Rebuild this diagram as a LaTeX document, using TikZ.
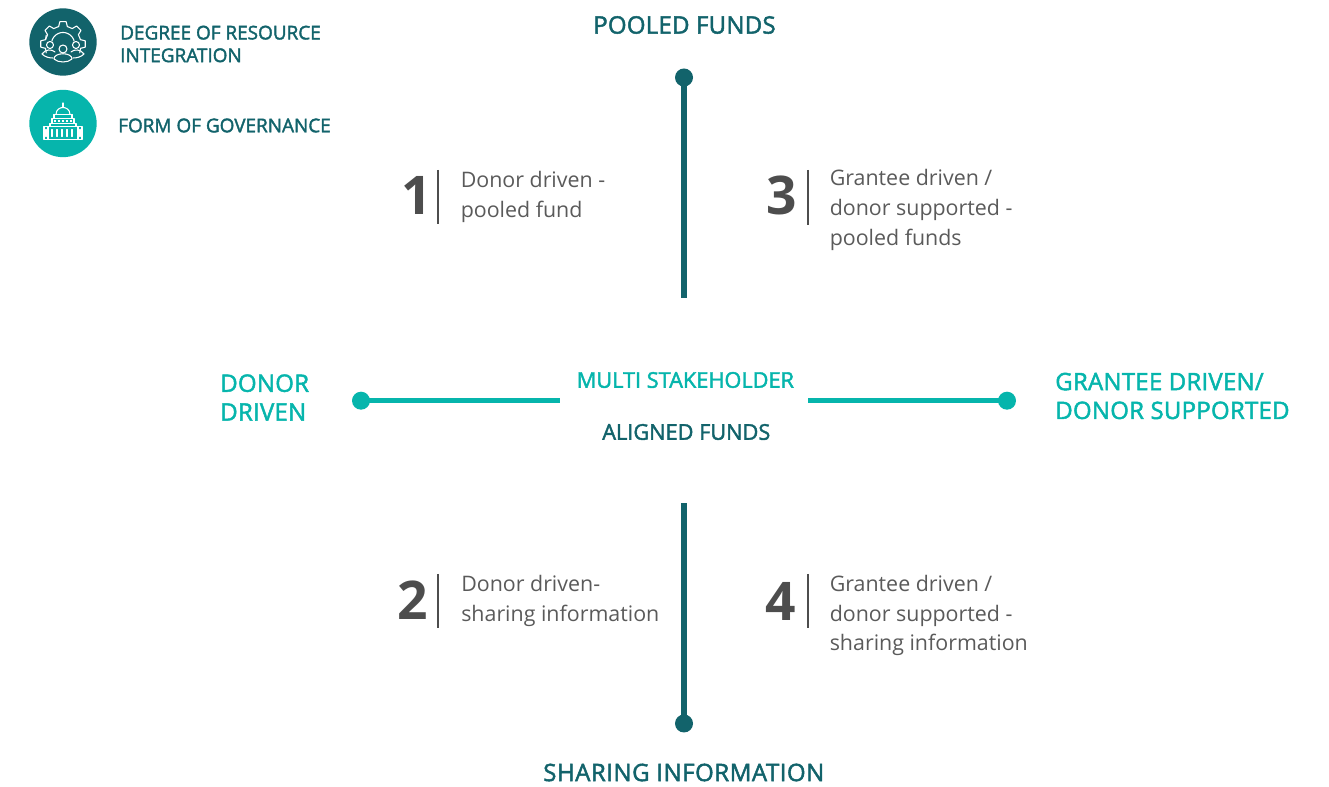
\documentclass[tikz,border=0pt]{standalone}
\usepackage{fontspec}
\setmainfont{Open Sans}
\newfontfamily\semi{Open Sans}[FakeBold=2]
\newfontfamily\semisp{Open Sans}[FakeBold=2,LetterSpace=1]
\newfontfamily\semiwide{Open Sans}[FakeBold=2,LetterSpace=2.2]
\newfontfamily\numfont{Open Sans}[UprightFont={* Bold}]
\definecolor{dk}{HTML}{12636B}
\definecolor{tl}{HTML}{06B5AC}
\definecolor{gy}{HTML}{5A5A5A}
\definecolor{nm}{HTML}{4D4D4D}
\tikzset{
 head/.style={font=\semisp\fontsize{18}{21.6}\selectfont,align=left,inner sep=0,anchor=west},
 widehead/.style={font=\semiwide\fontsize{18}{21.6}\selectfont,align=left,inner sep=0,anchor=west},
 small/.style={font=\semi\fontsize{14.2}{17}\selectfont,align=left,inner sep=0,anchor=west},
 mid/.style={font=\semi\fontsize{16.3}{20}\selectfont,align=left,inner sep=0,anchor=west},
 body/.style={font=\fontsize{16.05}{22.2}\selectfont,text=gy,align=left,inner sep=0,anchor=west},
 num/.style={font=\numfont\fontsize{40}{40}\selectfont,text=nm,inner sep=0},
 sep/.style={draw=nm,line width=1.1pt},
 axisv/.style={draw=dk,line width=4.2pt},
 axish/.style={draw=tl,line width=4.2pt},
 dot/.style={circle,inner sep=0,minimum size=13.5pt},
 ic/.style={draw=white,line width=.8pt,line cap=round,line join=round},
}
\begin{document}
\begin{tikzpicture}[x=.75pt,y=-.75pt]
\useasboundingbox (0,0) rectangle (1329,787);
% legend icons
\node[circle,fill=dk,inner sep=0,minimum size=50.5pt] (i1) at (63,42) {};
\node[circle,fill=tl,inner sep=0,minimum size=50.5pt] (i2) at (63,123.5) {};
% gear
\begin{scope}[shift={(63,42)},ic]
\begin{scope}[shift={(0,2)}]
\foreach \a/\b in {-180/-135,-135/-90,-90/-45,-45/0} {
 \draw (\a-14:18) -- (\a-8:22.5) -- (\a+8:22.5) -- (\a+14:18) -- (\b-14:18);
}
\draw (-14:18) -- (-8:22.5) -- (8:22.5) -- (14:18) -- (28:19);
\draw (-166:18) -- (-152:19) (166:18) -- (152:19);
\draw plot[domain=195:345,samples=24] ({11.5*cos(\x)},{11.5*sin(\x)});
\end{scope}
\draw (0,7) circle (4);
\draw (-13,3) circle (3.5);
\draw (13,3) circle (3.5);
\draw (-9,17) .. controls (-9,10) and (9,10) .. (9,17) .. controls (5,21) and (-5,21) .. (-9,17);
\draw (-10,16) .. controls (-14,16) and (-18,15) .. (-21,12) .. controls (-18,7) and (-11,7) .. (-8,10);
\draw (10,16) .. controls (14,16) and (18,15) .. (21,12) .. controls (18,7) and (11,7) .. (8,10);
\end{scope}
% capitol
\begin{scope}[shift={(63,123.5)},ic]
\draw (0,-20.5) -- (0,-16);
\draw (-7,-9) .. controls (-7,-14) and (-3,-16) .. (0,-16) .. controls (3,-16) and (7,-14) .. (7,-9);
\draw (-9,-9) -- (9,-9);
\draw (-9,-9) -- (-9,-5) -- (9,-5) -- (9,-9);
\draw (-11,-5) rectangle (11,0);
\draw[dash pattern=on 1.5pt off 1.5pt,line cap=butt,line width=1.2pt] (-9,-2.5) -- (9,-2.5);
\draw (-13,0) rectangle (13,3);
\draw (-19,3) rectangle (19,16);
\draw (-15,3) -- (-15,16) (15,3) -- (15,16);
\foreach \x in {-17,-11,-6,-1,4,9,17} \draw (\x,6) -- (\x,13);
\end{scope}
\node[small,text=dk] (l1) at (120,44) {DEGREE OF RESOURCE\\INTEGRATION};
\node[small,text=dk] (l2) at (118,125.5) {FORM OF GOVERNANCE};
% axes
\coordinate (tb) at (684,298);
\coordinate (bt) at (684,503);
\coordinate (lr) at (560,400.7);
\coordinate (rl) at (808,400.7);
\node[dot,fill=dk] (top) at (684,77.5) {};
\node[dot,fill=dk] (bot) at (684,723.5) {};
\node[dot,fill=tl] (lft) at (361,400.7) {};
\node[dot,fill=tl] (rgt) at (1007,400.7) {};
\draw[axisv] (top.center) -- (tb);
\draw[axisv] (bot.center) -- (bt);
\draw[axish] (lft.center) -- (lr);
\draw[axish] (rgt.center) -- (rl);
% headings
\node[head,text=dk] (pf) at (593,25) {POOLED FUNDS};
\node[widehead,text=dk] (si) at (543,772.5) {SHARING INFORMATION};
\node[head,text=tl] (dd) at (220,397.5) {DONOR\\DRIVEN};
\node[head,text=tl] (gd) at (1055,396) {GRANTEE DRIVEN/\\DONOR SUPPORTED};
\node[mid,text=tl] (ms) at (576.5,380) {MULTI STAKEHOLDER};
\node[mid,text=dk] (af) at (602,432) {ALIGNED FUNDS};
% quadrants
\node[num] (n1) at (416.5,195.5) {1};
\draw[sep] (438,170) -- (438,224);
\node[body] (t1) at (460.5,197) {Donor driven -\\pooled fund};
\node[num] (n3) at (782,195.5) {3};
\draw[sep] (808,170) -- (808,225);
\node[body] (t3) at (829.5,210) {Grantee driven /\\donor supported -\\pooled funds};
\node[num] (n2) at (413,600.5) {2};
\draw[sep] (438,574) -- (438,628);
\node[body] (t2) at (461,601) {Donor driven-\\sharing information};
\node[num] (n4) at (781,601) {4};
\draw[sep] (808,574) -- (808,628);
\node[body] (t4) at (829.5,615.5) {Grantee driven /\\donor supported -\\sharing information};
\end{tikzpicture}
\end{document}
